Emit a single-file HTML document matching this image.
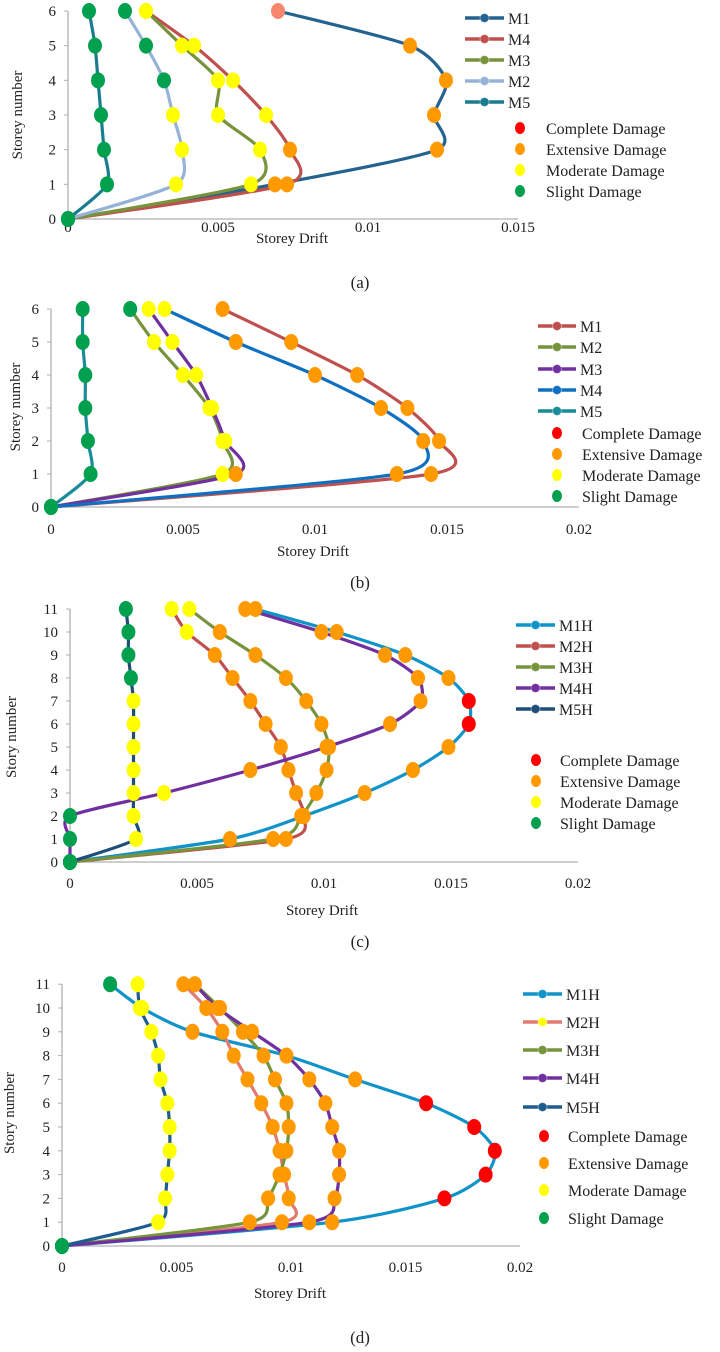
<!DOCTYPE html>
<html><head><meta charset="utf-8"><style>
html,body{margin:0;padding:0;background:#fff;}
svg{display:block;font-family:"Liberation Serif",serif;}
</style></head><body>
<svg id="fig" width="720" height="1352" viewBox="0 0 720 1352"></svg>
<script>
// ---- Chart (a) data ----
const aStoreys=[0,1,2,3,4,5,6];
const aM1=[0,0.0069,0.0123,0.0122,0.0126,0.0114,0.0070];
const aM4=[0,0.0073,0.0074,0.0066,0.0055,0.0042,0.0026];
const aM3=[0,0.0061,0.0064,0.0050,0.0050,0.0038,0.0026];
const aM2=[0,0.0036,0.0038,0.0035,0.0032,0.0026,0.0019];
const aM5=[0,0.0013,0.0012,0.0011,0.0010,0.0009,0.0007];
const aM1dmg=['S','E','E','E','E','E','P'];
const aM4dmg=['S','E','E','M','M','M','M'];
const aM3dmg=['S','M','M','M','M','M','M'];
const aM2dmg=['S','M','M','M','S','S','S'];
const aM5dmg=['S','S','S','S','S','S','S'];
const aXTicks=['0','0.005','0.01','0.015'];
// ---- Chart (b) data ----
const bStoreys=[0,1,2,3,4,5,6];
const bM1=[0,0.0144,0.0147,0.0135,0.0116,0.0091,0.0065];
const bM2=[0,0.0065,0.0065,0.0060,0.0050,0.0039,0.0030];
const bM3=[0,0.0070,0.0066,0.0061,0.0055,0.0046,0.0037];
const bM4=[0,0.0131,0.0141,0.0125,0.0100,0.0070,0.0043];
const bM5=[0,0.0015,0.0014,0.0013,0.0013,0.0012,0.0012];
const bM1dmg=['S','E','E','E','E','E','E'];
const bM2dmg=['S','M','M','M','M','M','S'];
const bM3dmg=['S','E','M','M','M','M','M'];
const bM4dmg=['S','E','E','E','E','E','M'];
const bM5dmg=['S','S','S','S','S','S','S'];
const bXTicks=['0','0.005','0.01','0.015','0.02'];
// ---- Chart (c) data ----
const cStoreys=[0,1,2,3,4,5,6,7,8,9,10,11];
const cM1H=[0,0.0063,0.0092,0.0116,0.0135,0.0149,0.0157,0.0157,0.0149,0.0132,0.0105,0.0073];
const cM2H=[0,0.0085,0.0092,0.0089,0.0086,0.0083,0.0077,0.0071,0.0064,0.0057,0.0046,0.0040];
const cM3H=[0,0.0080,0.0091,0.0097,0.0101,0.0102,0.0099,0.0093,0.0085,0.0073,0.0059,0.0047];
const cM4H=[0,0,0,0.0037,0.0071,0.0101,0.0126,0.0138,0.0137,0.0124,0.0099,0.0069];
const cM5H=[0,0.0026,0.0025,0.0025,0.0025,0.0025,0.0025,0.0025,0.0024,0.0023,0.0023,0.0022];
const cM1Hdmg=['S','E','E','E','E','E','C','C','E','E','E','E'];
const cM2Hdmg=['S','E','E','E','E','E','E','E','E','E','M','M'];
const cM3Hdmg=['S','E','E','E','E','E','E','E','E','E','E','M'];
const cM4Hdmg=['S','S','S','M','E','E','E','E','E','E','E','E'];
const cM5Hdmg=['S','M','M','M','M','M','M','M','S','S','S','S'];
const cXTicks=['0','0.005','0.01','0.015','0.02'];
// ---- Chart (d) data ----
const dStoreys=[0,1,2,3,4,5,6,7,8,9,10,11];
const dM1H=[0,0.0118,0.0167,0.0185,0.0189,0.0180,0.0159,0.0128,0.0098,0.0057,0.0035,0.0021];
const dM2H=[0,0.0096,0.0099,0.0097,0.0095,0.0092,0.0087,0.0081,0.0075,0.0070,0.0063,0.0053];
const dM3H=[0,0.0082,0.0090,0.0095,0.0098,0.0099,0.0098,0.0093,0.0088,0.0079,0.0069,0.0058];
const dM4H=[0,0.0108,0.0119,0.0121,0.0121,0.0118,0.0115,0.0108,0.0098,0.0083,0.0068,0.0058];
const dM5H=[0,0.0042,0.0045,0.0046,0.0047,0.0047,0.0046,0.0043,0.0042,0.0039,0.0034,0.0033];
const dM1Hdmg=['S','E','C','C','C','C','C','E','E','E','M','S'];
const dM2Hdmg=['S','E','E','E','E','E','E','E','E','E','E','E'];
const dM3Hdmg=['S','E','E','E','E','E','E','E','E','E','E','E'];
const dM4Hdmg=['S','E','E','E','E','E','E','E','E','E','E','E'];
const dM5Hdmg=['S','M','M','M','M','M','M','M','M','M','M','M'];
const dXTicks=['0','0.005','0.01','0.015','0.02'];

const DMG={C:'#ff0000',E:'#ff9900',M:'#ffff00',S:'#00a04f',P:'#f7876a'};
const NS='http://www.w3.org/2000/svg';
const fig=document.getElementById('fig');
function mk(tag,attrs,parent){const e=document.createElementNS(NS,tag);for(const k in attrs)e.setAttribute(k,attrs[k]);(parent||fig).appendChild(e);return e;}

const charts=[
 {id:'a',x0:68,xStep:0.005,xPx:150,y0:219,yStep:34.67,tickOff:13,storeys:aStoreys,ticks:aXTicks,ytitle:'Storey number',ytx:22,yty:115,xtitleY:243,xtitleX:292,cap:'(a)',capY:288,
  series:[['M1',aM1,aM1dmg,'#24628f'],['M4',aM4,aM4dmg,'#c0504d'],['M3',aM3,aM3dmg,'#77933c'],['M2',aM2,aM2dmg,'#95b3d7'],['M5',aM5,aM5dmg,'#1a7d8f']],
  leg:{lx:465,tx:508,ly:[18,39,60,81,102],dx:520,dtx:546,dy:[128,149,170,191]}},
 {id:'b',x0:51,xStep:0.005,xPx:132,y0:507,yStep:33,tickOff:27,storeys:bStoreys,ticks:bXTicks,ytitle:'Storey number',ytx:20,yty:407,xtitleY:556,xtitleX:313,cap:'(b)',capY:588,
  series:[['M1',bM1,bM1dmg,'#c0504d'],['M2',bM2,bM2dmg,'#77933c'],['M3',bM3,bM3dmg,'#7030a0'],['M4',bM4,bM4dmg,'#0f6fc0'],['M5',bM5,bM5dmg,'#1a8c99']],
  leg:{lx:538,tx:580,ly:[326,347,369,390,411],dx:557,dtx:582,dy:[433,454,475,496]}},
 {id:'c',x0:70,xStep:0.005,xPx:127,y0:862,yStep:23,tickOff:26,storeys:cStoreys,ticks:cXTicks,ytitle:'Story number',ytx:16,yty:737,xtitleY:915,xtitleX:322,cap:'(c)',capY:947,
  series:[['M1H',cM1H,cM1Hdmg,'#0f93c9'],['M2H',cM2H,cM2Hdmg,'#c0504d'],['M3H',cM3H,cM3Hdmg,'#77933c'],['M4H',cM4H,cM4Hdmg,'#7030a0'],['M5H',cM5H,cM5Hdmg,'#1f4e79']],
  leg:{lx:516,tx:559,ly:[625,646,667,688,709],dx:536,dtx:560,dy:[760,781,802,823]}},
 {id:'d',x0:62,xStep:0.005,xPx:114.5,y0:1246,yStep:23.8,tickOff:26,storeys:dStoreys,ticks:dXTicks,ytitle:'Story number',ytx:14,yty:1113,xtitleY:1298,xtitleX:290,cap:'(d)',capY:1343,
  series:[['M1H',dM1H,dM1Hdmg,'#0f93c9'],['M2H',dM2H,dM2Hdmg,'#e07b70'],['M3H',dM3H,dM3Hdmg,'#77933c'],['M4H',dM4H,dM4Hdmg,'#7030a0'],['M5H',dM5H,dM5Hdmg,'#1f5c8f']],
  leg:{lx:523,tx:566,ly:[994,1022,1050,1078,1107],dx:544,dtx:568,dy:[1136,1163,1190,1218]}}
];
const DLAB=[['Complete Damage','C'],['Extensive Damage','E'],['Moderate Damage','M'],['Slight Damage','S']];

function spline(pts){
  const k=8;
  let d='M'+pts[0][0].toFixed(1)+','+pts[0][1].toFixed(1);
  for(let i=0;i<pts.length-1;i++){
    const p0=pts[Math.max(0,i-1)],p1=pts[i],p2=pts[i+1],p3=pts[Math.min(pts.length-1,i+2)];
    const c1=[p1[0]+(p2[0]-p0[0])/k,p1[1]+(p2[1]-p0[1])/k];
    const c2=[p2[0]-(p3[0]-p1[0])/k,p2[1]-(p3[1]-p1[1])/k];
    d+=' C'+c1.map(v=>v.toFixed(1)).join(',')+' '+c2.map(v=>v.toFixed(1)).join(',')+' '+p2[0].toFixed(1)+','+p2[1].toFixed(1);
  }
  return d;
}

charts.forEach(ch=>{
  const g=mk('g',{});
  
  
  const X=v=>ch.x0+v/ch.xStep*ch.xPx;
  const Y=s=>ch.y0-s*ch.yStep;
  const xMax=(ch.ticks.length-1)*ch.xStep;
  const topS=ch.storeys[ch.storeys.length-1];
  const ax=mk('line',{x1:ch.x0,y1:ch.y0,x2:X(xMax),y2:ch.y0,stroke:'#b0b0b0','stroke-width':1.3},g);
  
  const ay=mk('line',{x1:ch.x0,y1:ch.y0,x2:ch.x0,y2:Y(topS),stroke:'#b0b0b0','stroke-width':1.3},g);
  
  ch.ticks.forEach((t,i)=>{
    const tx=mk('text',{x:X(i*ch.xStep),y:ch.y0+ch.tickOff,'text-anchor':'middle','font-size':15,fill:'#222'},g);
    tx.textContent=t;
    
  });
  ch.storeys.forEach(s=>{
    mk('line',{x1:ch.x0-4,y1:Y(s),x2:ch.x0,y2:Y(s),stroke:'#b0b0b0'},g);
    const ty=mk('text',{x:ch.x0-12,y:Y(s)+5,'text-anchor':'end','font-size':15,fill:'#222'},g);
    ty.textContent=String(s);
    
  });
  const xt=mk('text',{x:ch.xtitleX,y:ch.xtitleY,'text-anchor':'middle','font-size':15,fill:'#222'},g);
  xt.textContent='Storey Drift';
  
  const yt=mk('text',{x:ch.ytx,y:ch.yty,'text-anchor':'middle','font-size':15,fill:'#222',transform:'rotate(-90 '+ch.ytx+' '+ch.yty+')'},g);
  yt.textContent=ch.ytitle;
  
  const cp=mk('text',{x:360,y:ch.capY,'text-anchor':'middle','font-size':17,fill:'#222'},g);
  cp.textContent=ch.cap;
  
  ch.series.forEach(s=>{
    const pts=s[1].map((v,i)=>[X(v),Y(ch.storeys[i])]);
    const p=mk('path',{d:spline(pts),fill:'none',stroke:s[3],'stroke-width':3.2,'stroke-linejoin':'round'},g);
    
    
  });
  ch.series.forEach(s=>{
    s[1].forEach((v,i)=>{
      const c=mk('ellipse',{cx:X(v),cy:Y(ch.storeys[i]),rx:7,ry:8,fill:DMG[s[2][i]]},g);
      
      
    });
  });
  ch.series.forEach((s,i)=>{
    const y=ch.leg.ly[i];
    const l=mk('line',{x1:ch.leg.lx,y1:y,x2:ch.leg.tx-4,y2:y,stroke:s[3],'stroke-width':3.5},g);
    
    const mcol=(ch.id==='d'&&s[0]==='M2H')?'#ffff00':s[3];
    mk('circle',{cx:(ch.leg.lx+ch.leg.tx-4)/2,cy:y,r:4.5,fill:mcol,stroke:'#fff','stroke-opacity':0.4},g);
    const t=mk('text',{x:ch.leg.tx,y:y+6,'font-size':16,fill:'#222'},g);
    t.textContent=s[0];
    
  });
  DLAB.forEach((d,i)=>{
    const y=ch.leg.dy[i];
    const c=mk('ellipse',{cx:ch.leg.dx,cy:y,rx:5,ry:6,fill:DMG[d[1]]},g);
    
    const t=mk('text',{x:ch.leg.dtx,y:y+6,'font-size':16,fill:'#222'},g);
    t.textContent=d[0];
    
  });
});
</script>
</body></html>
